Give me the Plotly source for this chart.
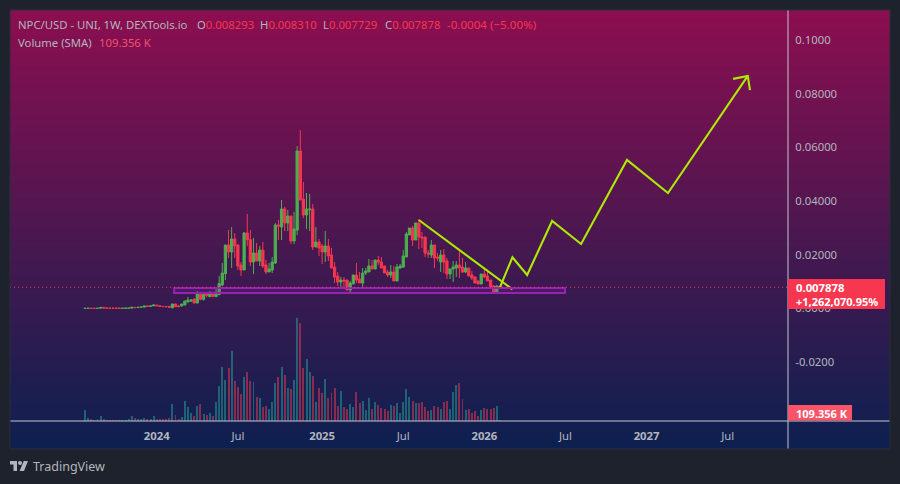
import pandas as pd
import plotly.graph_objects as go

WIDTH, HEIGHT = 900, 484
LEFT, RIGHT, TOP, BOTTOM = 10, 890, 10, 449
AXIS_X, AXIS_Y = 788, 421

week_start = "2023-07-24"

price_open = [
    0.00002, 0.00005, 0.00006, 0.00004, 0.00003, 0.00010, 0.00038, 0.00015, 0.00010, 0.00009,
    0.00008, 0.00007, 0.00006, 0.00008, 0.00010, 0.00012, 0.00042, 0.00030, 0.00045, 0.00050,
    0.00090, 0.00080, 0.00095, 0.00129, 0.00100, 0.00075, 0.00070, 0.00065, 0.00020, 0.00166,
    0.00090, 0.00090, 0.00129, 0.00240, 0.00277, 0.00352, 0.00203, 0.00538, 0.00340, 0.00538,
    0.00439, 0.00551, 0.00439, 0.00514, 0.00874, 0.01296, 0.02363, 0.02102, 0.02587, 0.02363,
    0.01618, 0.01432, 0.02810, 0.02562, 0.01730, 0.02065, 0.01767, 0.02177, 0.01618, 0.01358,
    0.01432, 0.01693, 0.03108, 0.03033, 0.03704, 0.03182, 0.03443, 0.02512, 0.02922, 0.05864,
    0.04076, 0.03480, 0.03680, 0.03704, 0.02289, 0.02475, 0.02326, 0.02102, 0.02326, 0.01991,
    0.01544, 0.01209, 0.00985, 0.01060, 0.01060, 0.00687, 0.00911, 0.01246, 0.01097, 0.00948,
    0.01321, 0.01358, 0.01581, 0.01470, 0.01805, 0.01730, 0.01581, 0.01358, 0.01246, 0.01358,
    0.01023, 0.01507, 0.01544, 0.01916, 0.02736, 0.02996, 0.02549, 0.03183, 0.02661, 0.02661,
    0.02065, 0.01991, 0.02363, 0.01916, 0.01730, 0.01991, 0.01767, 0.01283, 0.01470, 0.01507,
    0.01618, 0.01544, 0.01358, 0.01507, 0.01246, 0.01172, 0.01023, 0.00911, 0.01283, 0.01209,
    0.01060, 0.00836, 0.00576, 0.008293,
]
price_high = [
    0.00008, 0.00008, 0.00006, 0.00005, 0.00008, 0.00042, 0.00042, 0.00016, 0.00011, 0.00010,
    0.00009, 0.00008, 0.00010, 0.00012, 0.00014, 0.00044, 0.00045, 0.00048, 0.00055, 0.00092,
    0.00095, 0.00100, 0.00132, 0.00132, 0.00120, 0.00080, 0.00075, 0.00100, 0.00175, 0.00180,
    0.00120, 0.00170, 0.00280, 0.00426, 0.00352, 0.00370, 0.00650, 0.00560, 0.00613, 0.00613,
    0.00650, 0.00551, 0.00774, 0.01209, 0.01693, 0.02363, 0.02922, 0.03033, 0.02810, 0.02400,
    0.01730, 0.02847, 0.03518, 0.02922, 0.02624, 0.02438, 0.02326, 0.02475, 0.01805, 0.01693,
    0.01916, 0.03182, 0.03294, 0.04039, 0.03778, 0.03667, 0.03443, 0.03592, 0.06050, 0.06646,
    0.04709, 0.04299, 0.04262, 0.03890, 0.03033, 0.02587, 0.02400, 0.02885, 0.02587, 0.02251,
    0.01730, 0.01358, 0.01171, 0.01171, 0.01060, 0.01023, 0.01246, 0.01693, 0.01358, 0.01507,
    0.01507, 0.01842, 0.01805, 0.01805, 0.01954, 0.01916, 0.01581, 0.01432, 0.01618, 0.01581,
    0.01656, 0.01656, 0.02177, 0.02847, 0.02996, 0.03071, 0.03183, 0.03331, 0.02847, 0.02661,
    0.02177, 0.02549, 0.02363, 0.02065, 0.02177, 0.02214, 0.01879, 0.01470, 0.01767, 0.01767,
    0.02177, 0.01879, 0.01730, 0.01507, 0.01395, 0.01172, 0.01023, 0.01283, 0.01470, 0.01358,
    0.01060, 0.00874, 0.00874, 0.008310,
]
price_low = [
    0.00001, 0.00002, 0.00002, 0.00002, 0.00002, 0.00005, 0.00010, 0.00008, 0.00007, 0.00006,
    0.00006, 0.00005, 0.00005, 0.00007, 0.00008, 0.00010, 0.00025, 0.00028, 0.00042, 0.00048,
    0.00075, 0.00078, 0.00090, 0.00095, 0.00070, 0.00066, 0.00062, 0.00040, 0.00015, 0.00060,
    0.00062, 0.00085, 0.00125, 0.00235, 0.00240, 0.00180, 0.00203, 0.00300, 0.00290, 0.00414,
    0.00427, 0.00439, 0.00427, 0.00501, 0.00836, 0.01060, 0.01879, 0.01507, 0.01879, 0.01432,
    0.01209, 0.01432, 0.02326, 0.01581, 0.01283, 0.01767, 0.01581, 0.01507, 0.01283, 0.01358,
    0.01321, 0.01656, 0.02549, 0.02549, 0.02885, 0.02885, 0.02400, 0.02400, 0.02736, 0.04039,
    0.03369, 0.02959, 0.02885, 0.02177, 0.02289, 0.01954, 0.01656, 0.01730, 0.01767, 0.01507,
    0.00948, 0.00836, 0.00799, 0.00799, 0.00687, 0.00576, 0.00911, 0.00948, 0.00948, 0.00799,
    0.01246, 0.01358, 0.01470, 0.01470, 0.01618, 0.01507, 0.01321, 0.01172, 0.01134, 0.01023,
    0.01023, 0.01470, 0.01507, 0.01916, 0.02736, 0.02326, 0.02549, 0.02214, 0.02252, 0.01916,
    0.01879, 0.01879, 0.01507, 0.01767, 0.01358, 0.01321, 0.01100, 0.01097, 0.00985, 0.01172,
    0.01134, 0.01321, 0.01321, 0.01209, 0.01060, 0.00948, 0.00911, 0.00911, 0.01134, 0.01023,
    0.00762, 0.00576, 0.00576, 0.007729,
]
price_close = [
    0.00005, 0.00006, 0.00004, 0.00003, 0.00006, 0.00038, 0.00015, 0.00010, 0.00009, 0.00008,
    0.00007, 0.00006, 0.00008, 0.00010, 0.00012, 0.00042, 0.00030, 0.00045, 0.00050, 0.00090,
    0.00080, 0.00095, 0.00129, 0.00100, 0.00075, 0.00070, 0.00065, 0.00050, 0.00166, 0.00066,
    0.00066, 0.00166, 0.00277, 0.00315, 0.00315, 0.00203, 0.00538, 0.00340, 0.00514, 0.00489,
    0.00551, 0.00439, 0.00551, 0.00923, 0.01321, 0.02363, 0.02102, 0.02587, 0.02326, 0.01581,
    0.01432, 0.02810, 0.02562, 0.01730, 0.02065, 0.01767, 0.02177, 0.01581, 0.01358, 0.01469,
    0.01730, 0.03108, 0.03071, 0.03704, 0.03182, 0.03443, 0.02512, 0.02959, 0.05864, 0.04039,
    0.03480, 0.03704, 0.03704, 0.02289, 0.02475, 0.02251, 0.02102, 0.02326, 0.01954, 0.01507,
    0.01171, 0.00985, 0.01060, 0.01023, 0.00687, 0.00948, 0.01246, 0.01060, 0.00948, 0.01321,
    0.01395, 0.01581, 0.01470, 0.01805, 0.01730, 0.01507, 0.01321, 0.01246, 0.01358, 0.01023,
    0.01544, 0.01581, 0.01954, 0.02773, 0.02996, 0.02549, 0.03183, 0.02661, 0.02624, 0.02065,
    0.02028, 0.02363, 0.01879, 0.01879, 0.01991, 0.01730, 0.01283, 0.01470, 0.01544, 0.01618,
    0.01507, 0.01358, 0.01507, 0.01209, 0.01134, 0.00948, 0.00911, 0.01283, 0.01172, 0.01023,
    0.00762, 0.00576, 0.00836, 0.007878,
]
volume_k = [
    155, 46, 32, 14, 32, 73, 32, 14, 14, 14,
    14, 14, 14, 14, 32, 73, 46, 32, 32, 46,
    32, 32, 73, 32, 32, 32, 32, 46, 237, 87,
    32, 59, 278, 196, 114, 73, 210, 237, 100, 87,
    114, 73, 264, 483, 743, 565, 729, 962, 551, 469,
    374, 606, 674, 551, 538, 333, 319, 196, 210, 169,
    264, 524, 606, 743, 633, 456,
    442, 565, 1413, 1344, 729, 852, 674, 620, 264, 456,
    387, 579, 319, 387, 456, 210, 415, 196, 169, 237,
    196, 401, 251, 278, 155, 319, 169, 264, 223, 182,
    169, 141, 223, 210, 251, 114, 264, 442, 333, 278,
    251, 251, 264, 196, 141, 155, 210, 196, 169, 264,
    278, 169, 401, 497, 524, 305, 155, 169, 114, 141,
    73, 155, 182, 169, 169, 182, 210, 18,
]

# Hand-drawn forecast and support annotations
trend_dates = ["2025-08-11", "2026-03-09"]
trend_prices = [0.03294, 0.00713]
path_dates = ["2026-02-09", "2026-03-09", "2026-04-11", "2026-06-06", "2026-08-10",
              "2026-11-21", "2027-02-21", "2027-08-19"]
path_prices = [0.00788, 0.01905, 0.01246, 0.03257, 0.02400, 0.05530, 0.04300, 0.08660]
arrow_dates = ["2027-07-17", "2027-08-19", "2027-08-24"]
arrow_prices = [0.08550, 0.08660, 0.08130]
zone_dates = ["2024-02-09", "2026-07-05"]
zone_prices = [0.00762, 0.00575]

price_ticks = [0.1, 0.08, 0.06, 0.04, 0.02, 0.0, -0.02]
price_tick_text = ["0.1000", "0.08000", "0.06000", "0.04000", "0.02000", "0.0000", "-0.0200"]
date_ticks = ["2024-01-01", "2024-07-01", "2025-01-06", "2025-07-07", "2026-01-05",
              "2026-07-06", "2027-01-04", "2027-07-05"]
date_tick_text = ["<b>2024</b>", "Jul", "<b>2025</b>", "Jul", "<b>2026</b>", "Jul", "<b>2027</b>", "Jul"]

last_close = price_close[-1]

BG = "#1e222d"
FRAME = "#2a2e39"
MUTED = "#b2b5be"
AXIS_LINE = "#c4c6ce"
UP = "#4caf50"
DOWN = "#f7374f"
UP_VOL = "rgba(38,166,154,0.5)"
DOWN_VOL = "rgba(247,55,79,0.5)"
DRAW = "#aeea00"
ZONE = "#9c1fb4"
FONT = "Noto Sans"
SIZE = 11.3

dates = pd.date_range(week_start, periods=len(price_close), freq="7D")
vol_colors = [UP_VOL if c >= o else DOWN_VOL for o, c in zip(price_open, price_close)]


def px(x):
    return (x - LEFT) / (RIGHT - LEFT)


def py(y):
    return (BOTTOM - y) / (BOTTOM - TOP)


fig = go.Figure()

# Panel gradient lives on its own full-bleed subplot, under everything else
fig.add_trace(go.Heatmap(
    x=[0, 1], y=[0, 1], z=[[0, 0], [1, 1]], zsmooth="best", showscale=False,
    colorscale=[[0, "#0c2050"], [1, "#8c0e50"]], hoverinfo="skip",
    xaxis="x", yaxis="y",
))

fig.add_trace(go.Bar(
    x=dates, y=volume_k, width=4.4 * 86400000, marker=dict(color=vol_colors, line_width=0),
    xaxis="x2", yaxis="y2", hoverinfo="skip",
))

fig.add_trace(go.Candlestick(
    x=dates, open=price_open, high=price_high, low=price_low, close=price_close,
    increasing=dict(line=dict(color=UP, width=1), fillcolor=UP),
    decreasing=dict(line=dict(color=DOWN, width=1), fillcolor=DOWN),
    xaxis="x2", yaxis="y3", hoverinfo="skip",
))

for xs, ys in ((trend_dates, trend_prices), (path_dates, path_prices), (arrow_dates, arrow_prices)):
    fig.add_trace(go.Scatter(
        x=xs, y=ys, mode="lines", line=dict(color=DRAW, width=2.1),
        xaxis="x2", yaxis="y3", hoverinfo="skip",
    ))


def paper_rect(x0, y0, x1, y1, **kw):
    return dict(type="rect", xref="paper", yref="paper",
                x0=px(x0), x1=px(x1), y0=py(y0), y1=py(y1), **kw)


def logo_path(points):
    return "M" + "L".join(f"{px(x):.5f},{py(y):.5f}" for x, y in points) + "Z"


shapes = [
    dict(type="rect", xref="x2", yref="y3", x0=zone_dates[0], x1=zone_dates[1],
         y0=zone_prices[0], y1=zone_prices[1], layer="above",
         line=dict(color=ZONE, width=2), fillcolor="rgba(156,39,176,0.15)"),
    dict(type="line", xref="x2 domain", yref="y3", x0=0, x1=1, y0=last_close, y1=last_close,
         layer="above", line=dict(color=DOWN, width=1, dash="1px,3px")),
    dict(type="line", xref="paper", yref="paper", x0=px(AXIS_X), x1=px(AXIS_X), y0=0, y1=1,
         layer="above", line=dict(color=AXIS_LINE, width=1)),
    dict(type="line", xref="paper", yref="paper", x0=0, x1=1, y0=py(AXIS_Y), y1=py(AXIS_Y),
         layer="above", line=dict(color=AXIS_LINE, width=1)),
    paper_rect(LEFT, TOP, RIGHT, BOTTOM, layer="above", line=dict(color=FRAME, width=1)),
    paper_rect(788, 279, 885, 309, layer="above", line_width=0, fillcolor=DOWN),
    paper_rect(788, 405, 852, 420.5, layer="above", line_width=0, fillcolor="#fa5468"),
    # TradingView mark
    dict(type="path", xref="paper", yref="paper", layer="above", line_width=0, fillcolor=MUTED,
         path=logo_path([(10, 461), (17, 461), (17, 471), (13.5, 471), (13.5, 464.5), (10, 464.5)])),
    dict(type="path", xref="paper", yref="paper", layer="above", line_width=0, fillcolor=MUTED,
         path=logo_path([(23.7, 461), (28, 461), (24, 471), (19.6, 471)])),
    dict(type="circle", xref="paper", yref="paper", layer="above", line_width=0, fillcolor=MUTED,
         x0=px(18), x1=px(22), y0=py(465), y1=py(461)),
]


def label(x, y, text, color=MUTED, size=SIZE, anchor="left", **kw):
    return dict(xref="paper", yref="paper", x=px(x), y=py(y), text=text, showarrow=False,
                xanchor=anchor, yanchor="middle", align="left", borderpad=0, borderwidth=0,
                font=dict(family=FONT, size=size, color=color), **kw)


annotations = [
    label(18, 25, "NPC/USD - UNI, 1W, DEXTools.io"),
    label(197, 25, f'O<span style="color:{DOWN}">0.008293</span>'),
    label(260, 25, f'H<span style="color:{DOWN}">0.008310</span>'),
    label(323, 25, f'L<span style="color:{DOWN}">0.007729</span>'),
    label(385, 25, f'C<span style="color:{DOWN}">0.007878</span>'),
    label(447, 25, "-0.0004 (−5.00%)", color=DOWN, size=11.6),
    label(18, 42, "Volume (SMA)"),
    label(99, 42, "109.356 K", color="#f0556a"),
    label(796, 287.5, "<b>0.007878</b>", color="#ffffff"),
    label(796, 301.5, "<b>+1,262,070.95%</b>", color="#ffffff", size=11),
    label(796, 413, "<b>109.356 K</b>", color="#ffffff", size=11),
    label(33, 466.5, "TradingView", size=12.5),
]

price_domain = [py(AXIS_Y), 1]
x_domain = [0, px(AXIS_X)]

fig.update_layout(
    width=WIDTH, height=HEIGHT, autosize=False, showlegend=False,
    margin=dict(l=LEFT, r=WIDTH - RIGHT, t=TOP, b=HEIGHT - BOTTOM, pad=0),
    paper_bgcolor=BG, plot_bgcolor="rgba(0,0,0,0)", font=dict(family=FONT, size=SIZE, color=MUTED),
    bargap=0, boxgap=0.15, boxgroupgap=0.15,
    shapes=shapes, annotations=annotations,
    xaxis=dict(domain=[0, 1], range=[0, 1], visible=False, fixedrange=True),
    yaxis=dict(domain=[0, 1], range=[0, 1], visible=False, fixedrange=True),
    xaxis2=dict(domain=x_domain, anchor="y2", type="date",
                range=["2023-02-05T17:00", "2027-11-17T07:00"],
                tickmode="array", tickvals=date_ticks, ticktext=date_tick_text,
                ticks="outside", ticklen=4, tickcolor="rgba(0,0,0,0)",
                showgrid=False, zeroline=False, showline=False, rangeslider=dict(visible=False),
                tickfont=dict(family=FONT, size=SIZE, color=MUTED)),
    yaxis2=dict(domain=price_domain, anchor="x2", range=[0, 5618], visible=False),
    yaxis3=dict(domain=price_domain, anchor="x2", overlaying="y2", side="right",
                range=[-0.04192, 0.11116], tickmode="array", tickvals=price_ticks,
                ticktext=price_tick_text, ticks="outside", ticklen=4,
                tickcolor="rgba(0,0,0,0)", showgrid=False, zeroline=False, showline=False,
                tickfont=dict(family=FONT, size=SIZE, color=MUTED)),
)

fig.write_html("out.html", config=dict(displayModeBar=False))
